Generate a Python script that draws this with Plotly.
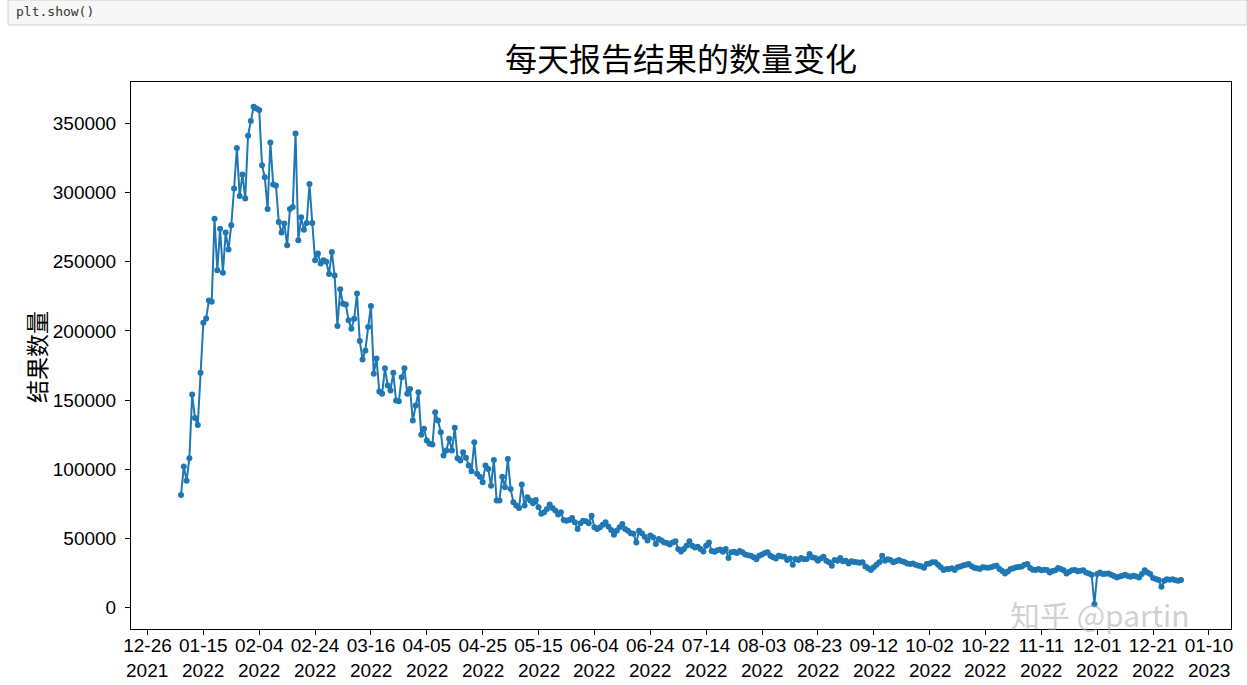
import pandas as pd
import plotly.graph_objects as go

start_date = "2022-01-07"
results = [
    81500, 102000, 91800, 108000, 154000, 137000, 132000, 169700, 205900, 209000,
    222000, 221000, 281000, 243700, 273800, 242000, 271000, 258700, 276300, 302800,
    332000, 297500, 313000, 295600, 341000, 351500, 361800, 360600, 359500, 319600,
    311000, 288000, 336000, 305700, 305000, 278700, 271000, 277500, 261800, 288000,
    289500, 342600, 265400, 282000, 273000, 278000, 306000, 278000, 251000, 255800,
    248600, 251000, 250000, 241000, 257000, 240000, 203500, 230000, 219600, 219000,
    207600, 201500, 208800, 226900, 192600, 179400, 185900, 202700, 217900, 169000,
    180000, 156200, 154500, 173000, 160500, 157000, 169700, 149700, 149200, 166500,
    173000, 154500, 158000, 135200, 146000, 155700, 124900, 129200, 120800, 118400,
    117900, 141200, 135200, 126800, 110000, 113500, 122000, 113500, 130000, 108000,
    106300, 112300, 108300, 102700, 98600, 119600, 96700, 94700, 90600, 102700,
    100300, 88200, 106800, 77400, 77400, 94700, 87000, 107500, 85800, 76200,
    73800, 72100, 89000, 73800, 79800, 77400, 75500, 77900, 72600, 67800,
    68900, 71400, 74500, 72100, 70200, 67300, 68900, 63400, 62900, 63400,
    64800, 61700, 56900, 61000, 62900, 62500, 61000, 66500, 58100, 56900,
    58100, 60000, 61700, 58600, 56200, 52800, 55700, 58100, 60500, 56900,
    55700, 53800, 53500, 47200, 55700, 53800, 51300, 48500, 52100, 50900,
    46100, 49700, 48500, 47200, 46700, 45600, 47200, 48000, 42400, 40700,
    42400, 44800, 48000, 44800, 43600, 44000, 42400, 40700, 44800, 47200,
    41000, 40500, 41500, 42000, 40500, 42500, 36000, 40000, 40500, 39500,
    41000, 40000, 38500, 38000, 37500, 36500, 35000, 37500, 38500, 39500,
    40000, 37500, 36500, 35500, 37600, 37000, 36800, 34500, 35500, 31100,
    35200, 34500, 35900, 35000, 35200, 38800, 36500, 35900, 34000, 35500,
    36900, 34000, 32800, 30400, 34500, 34000, 35900, 33500, 34000, 32000,
    33500, 33000, 32800, 32500, 32800, 29700, 28500, 27200, 29200, 31000,
    32800, 37600, 34000, 35000, 34500, 32800, 33500, 34500, 33500, 33000,
    32000, 31600, 32000, 31100, 30400, 30000, 28800, 31600, 32000, 32800,
    32800, 31000, 29200, 27200, 28000, 27900, 28500, 27200, 29200, 29700,
    30500, 31100, 31600, 30000, 28800, 28500, 27900, 29200, 29000, 28800,
    29200, 30000, 30400, 27900, 26500, 24800, 26200, 27900, 28500, 29200,
    29500, 29700, 31000, 31600, 28700, 27500, 27200, 27900, 27000, 27500,
    27200, 25500, 26500, 27000, 28700, 28000, 27000, 24800, 26000, 27000,
    27200, 26300, 26800, 27000, 25500, 24800, 23900, 2600, 24300, 25500,
    24300, 24500, 24800, 23900, 23000, 21900, 22500, 23100, 23900, 23000,
    22400, 23100, 22500, 21900, 24300, 27000, 25500, 24300, 21500, 20800,
    20000, 15200, 19500, 20600, 20300, 20600, 19800, 19500, 20000,
]
dates = pd.date_range(start_date, periods=len(results), freq="D")

tick_dates = pd.date_range("2021-12-26", "2023-01-10", freq="20D")
tick_md = ["12-26", "01-15", "02-04", "02-24", "03-16", "04-05", "04-25", "05-15",
           "06-04", "06-24", "07-14", "08-03", "08-23", "09-12", "10-02", "10-22",
           "11-11", "12-01", "12-21", "01-10"]
tick_year = ["2021"] + ["2022"] * 18 + ["2023"]
y_ticks = [0, 50000, 100000, 150000, 200000, 250000, 300000, 350000]

title_text = "每天报告结果的数量变化"
ylabel_text = "结果数量"

# matplotlib-style 5% margins
span = dates[-1] - dates[0]
x_range = [dates[0] - span * 0.05, dates[-1] + span * 0.05]
ymin, ymax = min(results), max(results)
yspan = ymax - ymin
y_range = [ymin - 0.05 * yspan, ymax + 0.05 * yspan]

CJK = "Noto Sans CJK SC"
TICKF = "Liberation Sans"
TICK_SIZE = 19

fig = go.Figure()
fig.add_trace(go.Scatter(
    x=dates, y=results, mode="lines+markers",
    line=dict(color="#1f77b4", width=2),
    marker=dict(color="#1f77b4", size=6),
    showlegend=False, hoverinfo="skip",
))

L, R, T, B = 131, 16, 82, 56
W, H = 1247, 685
pw, ph = W - L - R, H - T - B

def px(x):
    return (x - L) / pw

def py(y):
    return (H - B - y) / ph

fig.update_layout(
    width=W, height=H,
    margin=dict(l=L, r=R, t=T, b=B, autoexpand=False),
    paper_bgcolor="white", plot_bgcolor="white",
    font=dict(family=TICKF, color="black", size=TICK_SIZE),
    title=dict(text=title_text, x=681 / W, xref="container", xanchor="center",
               y=1 - 60 / H, yref="container", yanchor="middle",
               font=dict(family=CJK, size=32, color="black")),
)
fig.update_xaxes(
    range=x_range, tickvals=tick_dates, ticktext=tick_md, automargin=False,
    showline=True, linecolor="black", linewidth=1, mirror=True,
    ticks="outside", ticklen=5, tickcolor="black", showgrid=False, zeroline=False,
    tickfont=dict(family=TICKF, size=TICK_SIZE, color="black"), tickangle=0,
    ticklabelstandoff=-6,
)
fig.update_yaxes(
    range=y_range, tickvals=y_ticks, ticktext=[str(v) for v in y_ticks], automargin=False,
    showline=True, linecolor="black", linewidth=1, mirror=True,
    ticks="outside", ticklen=5, tickcolor="black", showgrid=False, zeroline=False,
    tickfont=dict(family=TICKF, size=TICK_SIZE, color="black"),
    ticklabelstandoff=5,
)
# second line of the date tick labels (year)
for d, yr in zip(tick_dates, tick_year):
    fig.add_annotation(text=yr, x=d, xref="x", y=py(670), yref="paper",
                       showarrow=False, xanchor="center", yanchor="middle",
                       font=dict(family=TICKF, size=TICK_SIZE, color="black"))

fig.add_annotation(text=ylabel_text, x=px(36), y=py(357), xref="paper", yref="paper",
                   textangle=-90, showarrow=False, xanchor="center", yanchor="middle",
                   font=dict(family=CJK, size=23, color="black"))

# notebook cell strip above the figure
fig.add_shape(type="rect", xref="paper", yref="paper",
              x0=px(8), x1=px(1247), y0=py(25), y1=py(0),
              fillcolor="#f7f7f7", line=dict(color="#cfcfcf", width=1), layer="below")
fig.add_annotation(text="plt.show()", x=px(14), y=py(11), xref="paper", yref="paper",
                   showarrow=False, xanchor="left", yanchor="middle",
                   font=dict(family="DejaVu Sans Mono", size=13, color="#333333"))
# watermark
fig.add_annotation(text="知乎 @partin", x=px(1100), y=py(614), xref="paper", yref="paper",
                   showarrow=False, xanchor="center", yanchor="middle",
                   font=dict(family=CJK, size=30, color="rgba(170,170,170,0.55)"))

fig.write_html("out.html", config={"displayModeBar": False},
               post_script="document.body.style.margin='0px';document.body.style.padding='0px';")
